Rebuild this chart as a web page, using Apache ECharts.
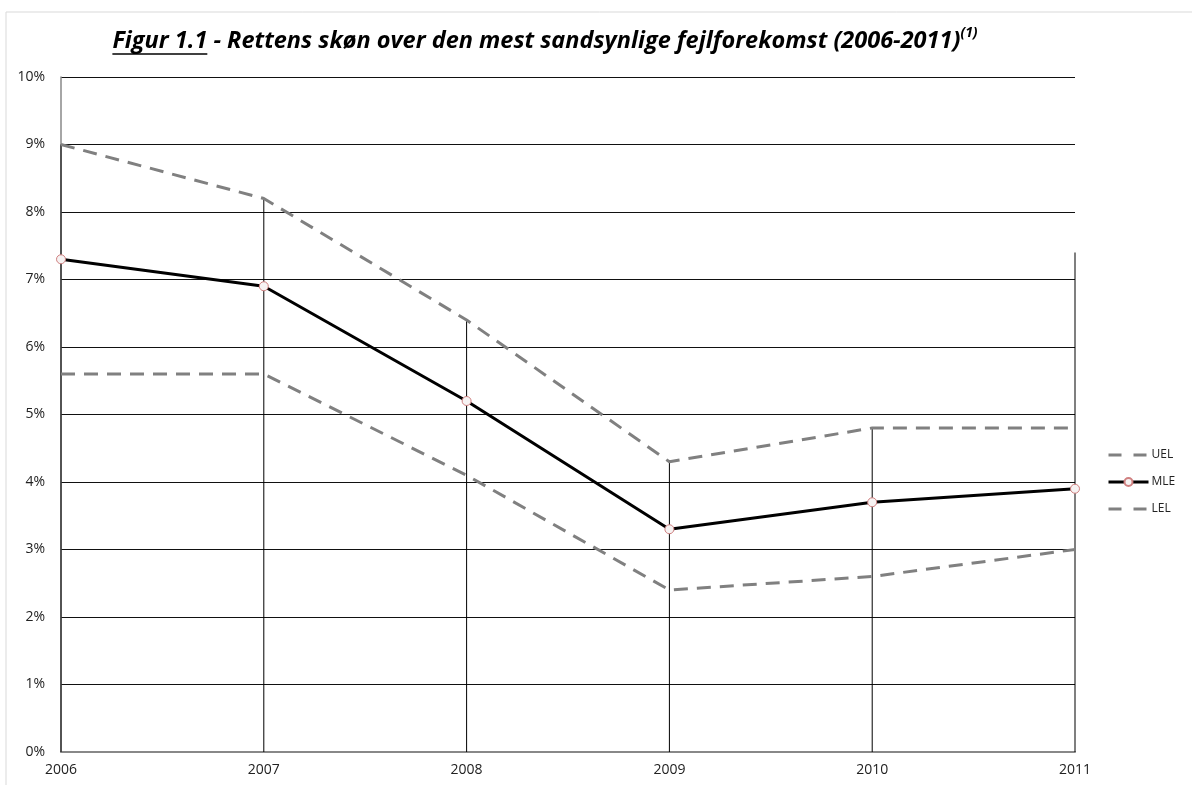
<!DOCTYPE html>
<html>
<head>
<meta charset="utf-8">
<script src="https://cdn.jsdelivr.net/npm/echarts@6/dist/echarts.min.js"></script>
<style>
html,body{margin:0;padding:0;background:#fff;}
#c{width:1192px;height:785px;}
</style>
</head>
<body>
<div id="c"></div>
<script>
var years = ['2006','2007','2008','2009','2010','2011'];
var uel = [9.0, 8.2, 6.4, 4.3, 4.8, 4.8];
var mle = [7.3, 6.9, 5.2, 3.3, 3.7, 3.9];
var lel = [5.6, 5.6, 4.1, 2.4, 2.6, 3.0];
var dropLines = [9.0, 8.2, 6.4, 4.3, 4.8, 7.4];
var titleMain = 'Figur 1.1';
var titleRest = ' - Rettens skøn over den mest sandsynlige fejlforekomst (2006-2011)';
var titleSup = '(1)';

var FONT = '"Open Sans", "Liberation Sans", sans-serif';
var titleSize = 23.5;
var supSize = 14;
var titleCX = 545, titleY = 41;

// measure title segments to place underline
var cv = document.createElement('canvas').getContext('2d');
cv.font = 'italic bold ' + titleSize + 'px ' + FONT;
var wMain = cv.measureText(titleMain).width;
var wRest = cv.measureText(titleRest).width;
cv.font = 'italic bold ' + supSize + 'px ' + FONT;
var wSup = cv.measureText(titleSup).width;
var totalW = wMain + wRest + wSup;
var tLeft = titleCX - totalW / 2;

var chart = echarts.init(document.getElementById('c'));
var dash = [14, 9];
var legDash = [13, 12];
chart.setOption({
  animation: false,
  backgroundColor: '#fff',
  grid: {left: 61, right: 117, top: 77, bottom: 33, containLabel: false},
  legend: {
    orient: 'vertical', left: 1102, top: 444, itemWidth: 40, itemHeight: 10, itemGap: 15,
    data: [
      {name: 'UEL', itemStyle: {opacity: 0}, lineStyle: {color: '#808080', width: 3, type: legDash}},
      {name: 'MLE', lineStyle: {color: '#000', width: 3}},
      {name: 'LEL', itemStyle: {opacity: 0}, lineStyle: {color: '#808080', width: 3, type: legDash}}
    ],
    textStyle: {fontFamily: FONT, fontSize: 12, color: '#222', padding: [0,0,0,-2]}
  },
  graphic: [
    {type: 'rect', shape: {x: 6, y: 12, width: 1300, height: 900}, style: {fill: 'none', stroke: '#d9d9d9', lineWidth: 1}, silent: true, z: -10},
    {type: 'text', x: tLeft, y: titleY, style: {
      text: '{u|' + titleMain + '}{n|' + titleRest + '}{s|' + titleSup + '}',
      textAlign: 'left', textVerticalAlign: 'middle',
      rich: {
        u: {fontFamily: FONT, fontSize: titleSize, fontStyle: 'italic', fontWeight: 'bold', fill: '#000', lineHeight: 30},
        n: {fontFamily: FONT, fontSize: titleSize, fontStyle: 'italic', fontWeight: 'bold', fill: '#000', lineHeight: 30},
        s: {fontFamily: FONT, fontSize: supSize, fontStyle: 'italic', fontWeight: 'bold', fill: '#000', verticalAlign: 'top', lineHeight: 30}
      }
    }},
    {type: 'line', shape: {x1: tLeft, y1: titleY + 13, x2: tLeft + wMain, y2: titleY + 13}, style: {stroke: '#000', lineWidth: 1.5}}
  ],
  xAxis: {
    type: 'category', data: years, boundaryGap: false,
    axisLine: {show: true, lineStyle: {color: '#888', width: 2}},
    axisTick: {show: false},
    axisLabel: {fontFamily: FONT, fontSize: 14, color: '#222', margin: 11},
    splitLine: {show: false}
  },
  yAxis: {
    type: 'value', min: 0, max: 10, interval: 1,
    axisLine: {show: true, lineStyle: {color: '#888', width: 1.5}},
    axisTick: {show: false},
    axisLabel: {formatter: '{value}%', fontFamily: FONT, fontSize: 14, color: '#222', margin: 16},
    splitLine: {show: true, lineStyle: {color: '#111', width: 1}}
  },
  series: [
    {name: 'drop', type: 'bar', data: dropLines, barWidth: 1, itemStyle: {color: '#000'}, silent: true, z: 1, legendHoverLink: false},
    {name: 'UEL', type: 'line', data: uel, symbol: 'none', lineStyle: {color: '#808080', width: 3, type: dash}, itemStyle: {color: '#808080'}, z: 3},
    {name: 'MLE', type: 'line', data: mle, symbol: 'circle', symbolSize: 9,
      lineStyle: {color: '#000', width: 3}, itemStyle: {color: '#f6f2f2', borderColor: '#d08080', borderWidth: 1}, z: 4},
    {name: 'LEL', type: 'line', data: lel, symbol: 'none', lineStyle: {color: '#808080', width: 3, type: dash}, itemStyle: {color: '#808080'}, z: 3}
  ]
});
</script>
</body>
</html>
